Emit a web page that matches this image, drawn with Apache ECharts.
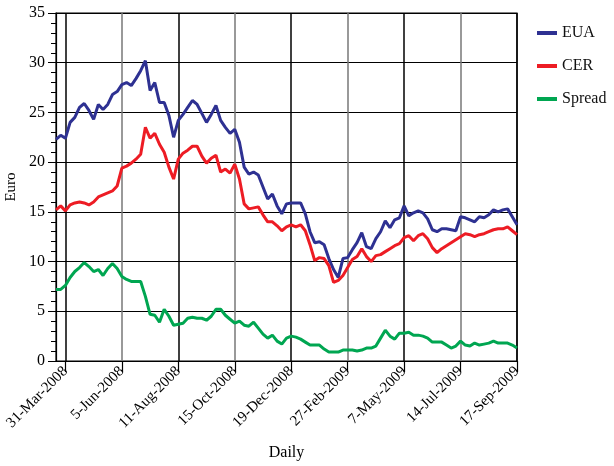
<!DOCTYPE html>
<html><head><meta charset="utf-8">
<script src="https://cdn.jsdelivr.net/npm/echarts@6/dist/echarts.min.js"></script>
<style>html,body{margin:0;padding:0;background:#fff}#c{width:614px;height:466px}</style>
</head><body><div id="c"></div>
<script>
const tickLabels = ["31-Mar-2008","5-Jun-2008","11-Aug-2008","15-Oct-2008","19-Dec-2008","27-Feb-2009","7-May-2009","14-Jul-2009","17-Sep-2009"];
const firstTickIndex = 2;
const samplesPerTick = 12;

const eua = [22.3,22.7,22.4,24.0,24.5,25.5,25.9,25.2,24.3,25.8,25.3,25.8,26.8,27.1,27.8,28.0,27.7,28.4,29.2,30.2,27.2,28.0,26.0,26.0,24.7,22.5,24.2,24.8,25.5,26.2,25.8,24.9,24.0,24.8,25.7,24.2,23.5,22.9,23.3,22.0,19.5,18.8,19.0,18.7,17.5,16.3,16.8,15.6,14.8,15.8,15.9,15.9,15.9,14.8,13.0,11.9,12.0,11.7,10.3,9.2,8.4,10.3,10.4,11.2,11.9,12.9,11.5,11.3,12.3,13.0,14.1,13.4,14.2,14.4,15.6,14.6,14.9,15.1,14.9,14.3,13.2,13.0,13.3,13.3,13.2,13.1,14.5,14.4,14.2,14.0,14.5,14.4,14.7,15.2,15.0,15.2,15.3,14.5,13.7];
const cer = [15.2,15.6,15.1,15.7,15.9,16.0,15.9,15.7,16.0,16.5,16.7,16.9,17.1,17.6,19.4,19.6,19.9,20.3,20.8,23.5,22.4,22.9,21.8,21.0,19.5,18.3,20.3,20.9,21.2,21.6,21.6,20.6,19.9,20.4,20.7,19.0,19.3,18.9,19.8,18.3,15.8,15.3,15.4,15.5,14.7,14.0,14.0,13.6,13.1,13.5,13.7,13.5,13.7,13.1,11.7,10.1,10.4,10.3,9.6,7.9,8.1,8.6,9.4,10.2,10.5,11.3,10.5,10.0,10.6,10.7,11.0,11.3,11.6,11.8,12.4,12.6,12.1,12.6,12.8,12.3,11.4,10.9,11.3,11.6,11.9,12.2,12.5,12.8,12.7,12.5,12.7,12.8,13.0,13.2,13.3,13.3,13.5,13.1,12.7];
const spread = [7.2,7.2,7.6,8.4,9.0,9.4,9.9,9.5,9.0,9.2,8.6,9.3,9.8,9.3,8.5,8.2,8.0,8.0,8.0,6.5,4.7,4.6,3.9,5.2,4.5,3.6,3.7,3.8,4.3,4.4,4.3,4.3,4.1,4.5,5.2,5.2,4.6,4.2,3.8,4.0,3.6,3.5,3.9,3.3,2.7,2.3,2.6,2.0,1.7,2.3,2.5,2.4,2.2,1.9,1.6,1.6,1.6,1.2,0.9,0.9,0.9,1.1,1.1,1.1,1.0,1.1,1.3,1.3,1.5,2.3,3.1,2.5,2.2,2.8,2.8,2.9,2.6,2.6,2.5,2.3,1.9,1.9,1.9,1.6,1.3,1.5,2.0,1.6,1.5,1.8,1.6,1.7,1.8,2.0,1.8,1.8,1.8,1.6,1.3];

const categories = eua.map((_, i) => String(i));
const isTick = i => i >= firstTickIndex && (i - firstTickIndex) % samplesPerTick === 0;
const labelFor = i => isTick(i) ? tickLabels[(i - firstTickIndex) / samplesPerTick] : '';

const FONT = 'Liberation Serif';
const chart = echarts.init(document.getElementById('c'), null, {renderer: 'canvas'});
chart.setOption({
  animation: false,
  textStyle: {fontFamily: FONT, color: '#000'},
  grid: {left: 56, right: 97, top: 13, bottom: 105, show: true, borderColor: '#000', borderWidth: 1.2,
         containLabel: false, outerBoundsMode: 'none'},
  legend: {
    orient: 'vertical', left: 532, top: 19, itemGap: 15,
    icon: 'rect', itemWidth: 20, itemHeight: 4,
    textStyle: {fontFamily: FONT, fontSize: 16, color: '#111', lineHeight: 18},
    data: ['EUA', 'CER', 'Spread']
  },
  xAxis: {
    type: 'category', data: categories, boundaryGap: false,
    name: 'Daily', nameLocation: 'middle', nameGap: 84,
    nameTextStyle: {fontFamily: FONT, fontSize: 16, color: '#000'},
    axisLine: {lineStyle: {color: '#000', width: 1.2}},
    axisTick: {show: true, interval: (i) => isTick(i), length: 11, lineStyle: {color: '#000', width: 1.2}},
    axisLabel: {interval: (i) => isTick(i), rotate: 45, margin: 8, fontFamily: FONT, fontSize: 15, color: '#000',
      formatter: (v, i) => labelFor(Number(v))},
    splitLine: {show: true, interval: (i) => isTick(i), lineStyle: {color: ['#000', '#777'], width: 1.5}}
  },
  yAxis: {
    type: 'value', min: 0, max: 35, interval: 5,
    name: 'Euro', nameLocation: 'middle', nameGap: 37,
    nameTextStyle: {fontFamily: FONT, fontSize: 15, color: '#000'},
    axisLine: {show: true, lineStyle: {color: '#000', width: 1.2}},
    axisTick: {show: true, length: 8, lineStyle: {color: '#000'}},
    minorTick: {show: true, splitNumber: 5, length: 5, lineStyle: {color: '#000'}},
    axisLabel: {fontFamily: FONT, fontSize: 16, color: '#000', margin: 11},
    splitLine: {show: true, lineStyle: {color: '#000', width: 1.2}}
  },
  series: [
    {name: 'EUA', type: 'line', data: eua, showSymbol: false, lineStyle: {width: 3, color: '#2e3192'}, itemStyle: {color: '#2e3192'}},
    {name: 'CER', type: 'line', data: cer, showSymbol: false, lineStyle: {width: 3, color: '#ed1c24'}, itemStyle: {color: '#ed1c24'}},
    {name: 'Spread', type: 'line', data: spread, showSymbol: false, lineStyle: {width: 3, color: '#00a651'}, itemStyle: {color: '#00a651'}}
  ]
});
</script></body></html>
